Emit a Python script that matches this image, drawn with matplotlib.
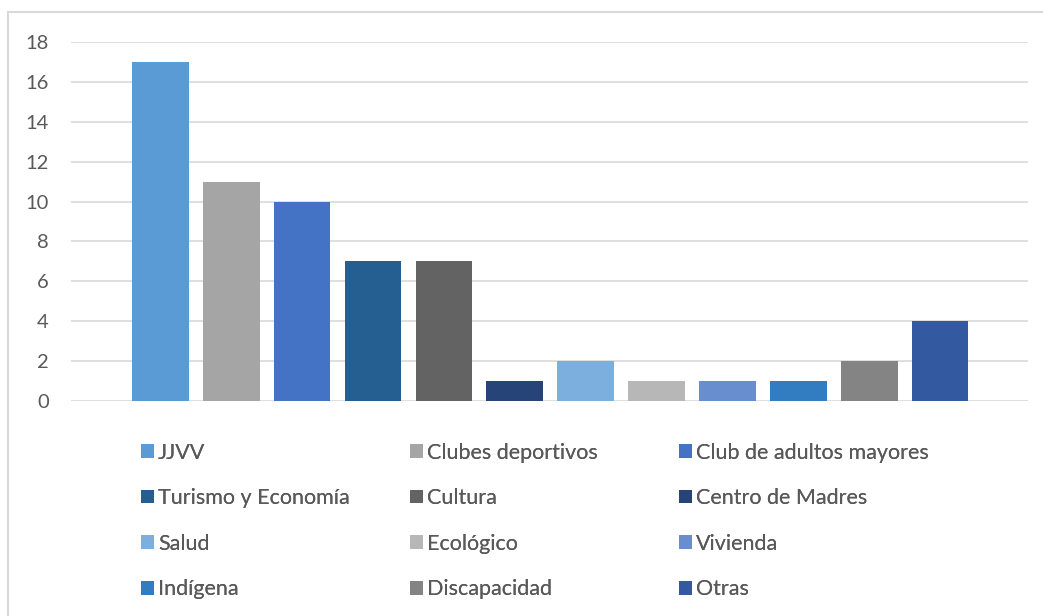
import matplotlib
matplotlib.use("Agg")
import matplotlib.pyplot as plt
from matplotlib.patches import Rectangle

# datos del grafico
categorias = ["JJVV", "Clubes deportivos", "Club de adultos mayores",
              "Turismo y Economía", "Cultura", "Centro de Madres",
              "Salud", "Ecológico", "Vivienda",
              "Indígena", "Discapacidad", "Otras"]
valores = [17, 11, 10, 7, 7, 1, 2, 1, 1, 1, 2, 4]
colores = ["#5B9BD5", "#A5A5A5", "#4472C4", "#255E91", "#636363", "#264478",
           "#7CAFDD", "#B7B7B7", "#698ED0", "#327DC2", "#848484", "#335AA1"]
yticks = [0, 2, 4, 6, 8, 10, 12, 14, 16, 18]

plt.rcParams['font.family'] = ['Lato', 'DejaVu Sans']
gris = "#595959"

fig = plt.figure(figsize=(10.43, 6.16), dpi=100)
ax = fig.add_axes([0.0681, 0.349, 0.9175, 0.5828])

barras = []
for i in range(len(valores)):
    b = ax.bar(i, valores[i], width=0.8, color=colores[i], zorder=3,
               label=categorias[i])
    barras.append(b)

ax.set_xlim(-1.26, 12.24)
ax.set_ylim(0, 18)
ax.set_yticks(yticks)
ax.set_xticks([])
ax.grid(axis='y', color="#d9d9d9", linewidth=1.2, zorder=0)
for s in ax.spines.values():
    s.set_visible(False)
ax.tick_params(axis='y', length=0, pad=16, labelsize=14.5, labelcolor=gris)

# leyenda en tres columnas (Excel usa columnas de igual ancho)
col_x = [0.1352, 0.3931, 0.651]
for c in range(3):
    idx = [c, c + 3, c + 6, c + 9]
    leg = fig.legend([barras[k] for k in idx], [categorias[k] for k in idx],
                     loc='upper left', bbox_to_anchor=(col_x[c], 0.2815),
                     frameon=False, fontsize=15.5, labelcolor=gris,
                     handlelength=0.6, handleheight=0.6, handletextpad=0.19,
                     labelspacing=1.19, borderaxespad=0, borderpad=0)
    fig.add_artist(leg)

# marco del grafico
fig.add_artist(Rectangle((8 / 1043, -0.02), 1.1, 0.02 + (1 - 12 / 616),
                         transform=fig.transFigure, fill=False,
                         edgecolor="#d9d9d9", linewidth=1.5))

fig.savefig("out.png", dpi=100)
